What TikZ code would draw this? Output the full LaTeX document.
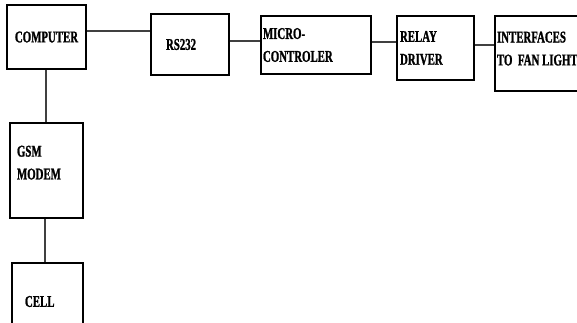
\documentclass[tikz,border=0pt]{standalone}
\usepackage{fontspec}
\newfontfamily\blkfont{Liberation Serif Bold}[FakeStretch=0.66, FakeBold=1.2]
\usetikzlibrary{positioning}
\tikzset{
    blk/.style={draw, rectangle, line width=1.6pt, inner xsep=0pt, inner ysep=0pt, align=left, font=\blkfont\fontsize{14}{19.5}\selectfont},
    wire/.style={line width=1pt, draw=black!75},
}
\begin{document}
\begin{tikzpicture}[x=0.03cm, y=-0.03cm]
    \useasboundingbox (0,0) rectangle (577,322);
    \clip (0,0) rectangle (577,322);

    % Top row
    \node[blk, align=center, minimum width=2.37cm, minimum height=1.92cm] (computer) at (46.5,37) {COMPUTER};
    \node[blk, text width=1.44cm, minimum width=2.34cm, minimum height=1.83cm] (rs) at (190,44.5) {RS232};
    \node[blk, text width=3.18cm, minimum width=3.3cm, minimum height=1.74cm] (micro) at (316,45) {MICRO-\\CONTROLER};
    \node[blk, text width=2.13cm, minimum width=2.31cm, minimum height=1.92cm] (relay) at (435.5,48) {RELAY\\DRIVER};
    \node[blk, text width=2.73cm, minimum width=2.85cm, minimum height=2.25cm] (iface) at (542.5,53.5) {INTERFACES\\TO FAN\,LIGHT\\[-11pt]\mbox{}};

    % Left column
    \node[blk, text width=1.77cm, minimum width=2.19cm, minimum height=2.85cm] (gsm) at (46.5,170.5) {GSM\\MODEM\\[-6pt]\mbox{}};
    \node[blk, text width=1.35cm, minimum width=2.13cm, minimum height=2.31cm] (cell) at (47.5,301.5) {CELL};

    % Wires
    \draw[wire] (computer.east |- 0,31) -- (rs.west |- 0,31);
    \draw[wire] (rs.east |- 0,41) -- (micro.west |- 0,41);
    \draw[wire] (micro.east |- 0,42) -- (relay.west |- 0,42);
    \draw[wire] (relay.east |- 0,45) -- (iface.west |- 0,45);
    \draw[wire] (computer.south -| 46,0) -- (gsm.north -| 46,0);
    \draw[wire] (gsm.south -| 45,0) -- (cell.north -| 45,0);
\end{tikzpicture}
\end{document}
